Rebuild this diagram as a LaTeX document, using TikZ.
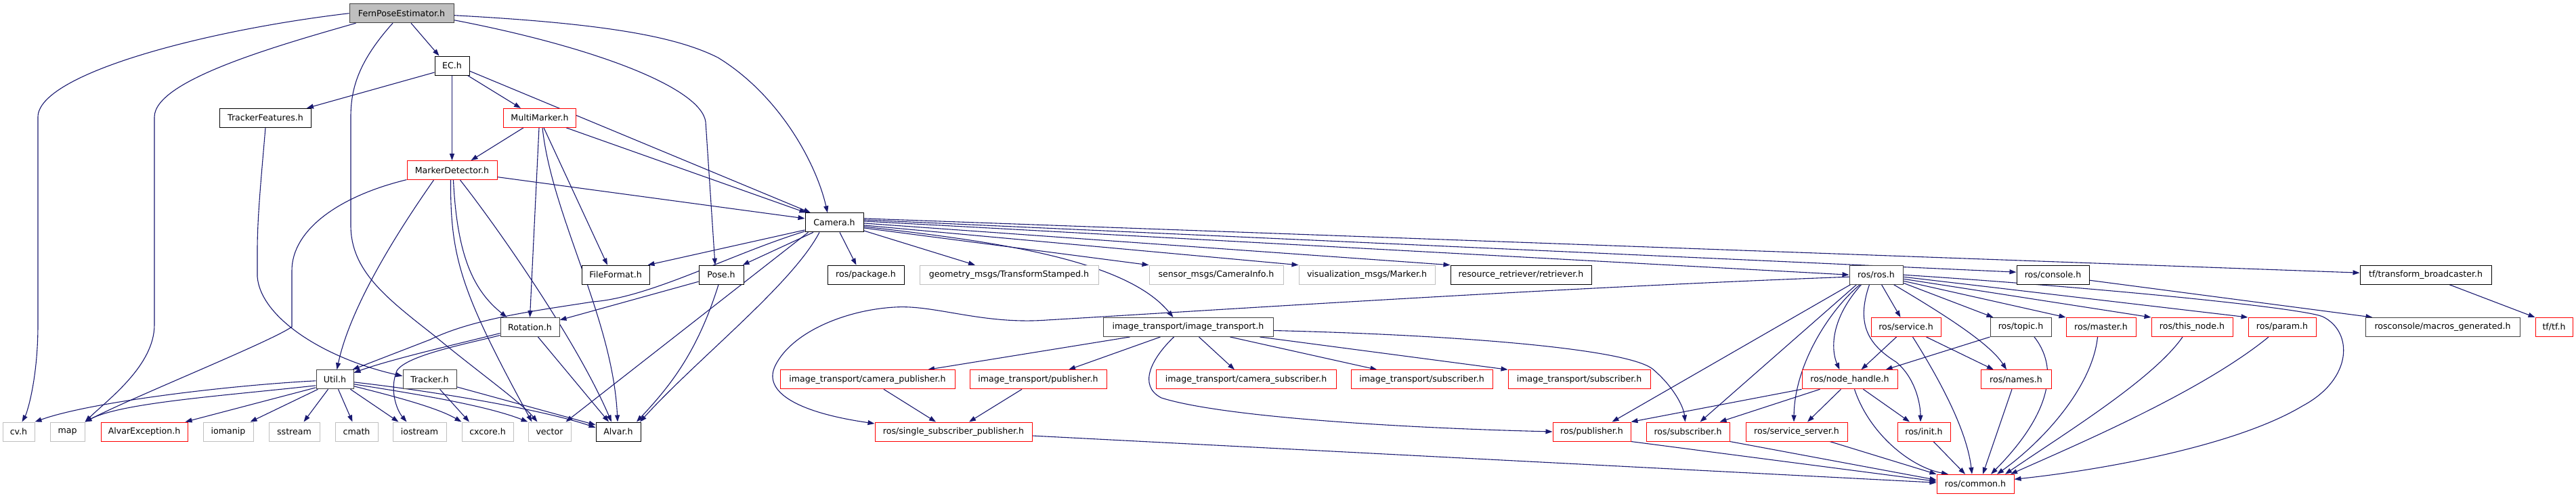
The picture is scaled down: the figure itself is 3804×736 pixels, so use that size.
\documentclass[tikz,border=0pt]{standalone}
\usepackage{fontspec}
\setmainfont{DejaVu Sans}
\usetikzlibrary{arrows.meta,backgrounds}
\definecolor{edgec}{HTML}{191970}
\definecolor{grayb}{HTML}{BFBFBF}
\definecolor{rootf}{HTML}{BFBFBF}
\definecolor{darkb}{HTML}{404040}
\begin{document}
\begin{tikzpicture}[x=1pt,y=-1pt,
  font=\fontsize{12.6}{15}\selectfont,
  base/.style={draw, line width=1pt, inner sep=0pt, minimum height=28pt, fill=white, text=black},
  nb/.style={base, draw=black},
  nd/.style={base, draw=darkb},
  ng/.style={base, draw=grayb},
  nr/.style={base, draw=red},
  nroot/.style={base, draw=darkb, fill=rootf},
  e/.style={draw=edgec, line width=1.1pt, -{Triangle[length=10pt,width=7pt]}}]
\useasboundingbox (0,0) rectangle (3804,736);
% row 0-4
\node[nroot, minimum width=154pt] (F) at (593,19.7) {FernPoseEstimator.h};
\node[nb, minimum width=51pt] (EC) at (667.5,97) {EC.h};
\node[nb, minimum width=135pt] (TF) at (392,174.3) {TrackerFeatures.h};
\node[nr, minimum width=107pt] (MM) at (797,174.3) {MultiMarker.h};
\node[nr, minimum width=133pt] (MD) at (667.5,251.6) {MarkerDetector.h};
\node[nb, minimum width=86pt] (Cam) at (1232,328.9) {Camera.h};
% row 5
\node[nb, minimum width=100pt] (FF) at (909,406.2) {FileFormat.h};
\node[nb, minimum width=66pt] (Pose) at (1065,406.2) {Pose.h};
\node[nb, minimum width=113pt] (pkg) at (1278.5,406.2) {ros/package.h};
\node[ng, minimum width=264pt] (geom) at (1490,406.2) {geometry\_msgs/TransformStamped.h};
\node[ng, minimum width=198pt] (sensor) at (1796,406.2) {sensor\_msgs/CameraInfo.h};
\node[ng, minimum width=201pt] (vis) at (2018.5,406.2) {visualization\_msgs/Marker.h};
\node[nb, minimum width=208pt] (ret) at (2246,406.2) {resource\_retriever/retriever.h};
\node[nd, minimum width=79pt] (ros) at (2770.5,406.2) {ros/ros.h};
\node[nb, minimum width=107pt] (con) at (3031.5,406.2) {ros/console.h};
\node[nb, minimum width=194pt] (tfb) at (3582,406.2) {tf/transform\_broadcaster.h};
% row 6
\node[nd, minimum width=87pt] (Rot) at (782.5,483.5) {Rotation.h};
\node[nd, minimum width=251pt] (itit) at (1754.5,483.5) {image\_transport/image\_transport.h};
\node[nr, minimum width=103pt] (svc) at (2814.5,483.5) {ros/service.h};
\node[nd, minimum width=90pt] (topic) at (2984,483.5) {ros/topic.h};
\node[nr, minimum width=103pt] (master) at (3102.5,483.5) {ros/master.h};
\node[nr, minimum width=120pt] (tn) at (3237,483.5) {ros/this\_node.h};
\node[nr, minimum width=100pt] (param) at (3370,483.5) {ros/param.h};
\node[nd, minimum width=228pt] (rc) at (3607,483.5) {rosconsole/macros\_generated.h};
\node[nr, minimum width=55pt] (tftf) at (3771.5,483.5) {tf/tf.h};
% row 7
\node[nd, minimum width=55pt] (Util) at (494.5,560.8) {Util.h};
\node[nd, minimum width=79pt] (Tracker) at (634.5,560.8) {Tracker.h};
\node[nr, minimum width=258pt] (cpub) at (1281,560.8) {image\_transport/camera\_publisher.h};
\node[nr, minimum width=202pt] (ipub) at (1533,560.8) {image\_transport/publisher.h};
\node[nr, minimum width=266pt] (csub) at (1840,560.8) {image\_transport/camera\_subscriber.h};
\node[nr, minimum width=209pt] (isub1) at (2099.5,560.8) {image\_transport/subscriber.h};
\node[nr, minimum width=210pt] (isub2) at (2332,560.8) {image\_transport/subscriber.h};
\node[nr, minimum width=141pt] (nh) at (2731.5,560.8) {ros/node\_handle.h};
\node[nr, minimum width=104pt] (names) at (2977,560.8) {ros/names.h};
% row 8
\node[ng, minimum width=47pt] (cv) at (27.5,638) {cv.h};
\node[ng, minimum width=51pt] (map) at (99.5,638) {map};
\node[nr, minimum width=128pt] (AE) at (213,638) {AlvarException.h};
\node[ng, minimum width=74pt] (iom) at (337,638) {iomanip};
\node[ng, minimum width=75pt] (ss) at (434.5,638) {sstream};
\node[ng, minimum width=63pt] (cmath) at (526.5,638) {cmath};
\node[ng, minimum width=79pt] (ios) at (619.5,638) {iostream};
\node[ng, minimum width=76pt] (cxc) at (720,638) {cxcore.h};
\node[ng, minimum width=63pt] (vector) at (811.5,638) {vector};
\node[nb, minimum width=66pt] (Alvar) at (913,638) {Alvar.h};
\node[nr, minimum width=232pt] (ssp) at (1408,638) {ros/single\_subscriber\_publisher.h};
\node[nr, minimum width=115pt] (rpub) at (2350.5,638) {ros/publisher.h};
\node[nr, minimum width=123pt] (rsub) at (2492.5,638) {ros/subscriber.h};
\node[nr, minimum width=150pt] (sse) at (2653,638) {ros/service\_server.h};
\node[nr, minimum width=78pt] (init) at (2841,638) {ros/init.h};
% row 9
\node[nr, minimum width=114pt] (common) at (2917,715.3) {ros/common.h};

\begin{scope}[on background layer]
% FernPoseEstimator
\draw[e] (F.west) .. controls (300,45) and (56,110) .. (56,173) -- (56,480) .. controls (56,560) and (40,610) .. ([xshift=5pt]cv.north);
\draw[e] ([xshift=10pt]F.south west) .. controls (400,70) and (228,120) .. (228,173) -- (228,480) .. controls (228,540) and (160,590) .. (map.north east);
\draw[e] ([xshift=14pt]F.south) -- ([xshift=-19pt]EC.north);
\draw[e] ([xshift=-13pt]F.south) .. controls (530,90) and (518,130) .. (518,173) -- (518,333) .. controls (518,400) and (570,440) .. (640,495) .. controls (700,545) and (770,595) .. ([xshift=-18pt]vector.north);
\draw[e] ([yshift=-10pt]F.east) .. controls (880,70) and (1035,130) .. (1042,180) -- ([xshift=-9pt]Pose.north);
\draw[e] ([yshift=-3pt]F.east) .. controls (900,35) and (1000,55) .. (1060,85) .. controls (1150,140) and (1205,240) .. ([xshift=-10pt]Cam.north);
% EC
\draw[e] ([yshift=-10pt]EC.west) -- ([xshift=61pt]TF.north);
\draw[e] (EC.south) -- (MD.north);
\draw[e] ([xshift=23pt]EC.south) -- ([xshift=-28pt]MM.north);
\draw[e] ([yshift=-8pt]EC.east) -- ([xshift=-35pt]Cam.north);
% MultiMarker
\draw[e] ([xshift=-24pt]MM.south) -- ([xshift=28pt]MD.north);
\draw[e] ([xshift=39pt]MM.south) -- ([xshift=2pt]Cam.north west);
\draw[e] ([xshift=6pt]MM.south) -- ([xshift=-12pt]FF.north);
\draw[e] ([xshift=-1pt]MM.south) -- (Rot.north);
\draw[e] ([xshift=4pt]MM.south) .. controls (815,320) and (905,470) .. ([xshift=-1pt]Alvar.north);
% MarkerDetector
\draw[e] ([yshift=-10pt]MD.east) -- ([yshift=6pt]Cam.west);
\draw[e] ([yshift=-14pt]MD.west) .. controls (500,290) and (431,340) .. (431,400) -- (431,483) .. controls (400,505) and (200,585) .. (map.north east);
\draw[e] ([xshift=-27pt]MD.south) .. controls (610,310) and (520,440) .. ([xshift=3pt]Util.north);
\draw[e] ([xshift=2pt]MD.south) .. controls (675,380) and (700,430) .. ([xshift=-34pt]Rot.north);
\draw[e] ([xshift=-2pt]MD.south) .. controls (665,380) and (680,430) .. ([xshift=-26pt]vector.north);
\draw[e] ([xshift=12pt]MD.south) .. controls (730,330) and (850,500) .. ([xshift=-10pt]Alvar.north);
% TrackerFeatures
\draw[e] (TF.south) .. controls (386,260) and (380,320) .. (380,370) -- (380,409) .. controls (385,470) and (480,530) .. ([yshift=5pt]Tracker.west);
% Camera
\draw[e] ([yshift=-11pt]Cam.west) -- ([xshift=-3pt]FF.north east);
\draw[e] ([xshift=-31pt]Cam.south) -- ([xshift=-2pt]Pose.north east);
\draw[e] ([yshift=-13pt]Cam.west) .. controls (1080,375) and (960,440) .. (875,446) .. controls (800,458) and (700,470) .. (635,502) -- ([xshift=-2pt]Util.north east);
\draw[e] ([xshift=5pt]Cam.south west) -- ([xshift=-8pt]vector.north east);
\draw[e] ([xshift=-22pt]Cam.south) .. controls (1170,420) and (1030,530) .. ([xshift=32pt]Alvar.north);
\draw[e] ([xshift=8pt]Cam.south) -- ([xshift=-14pt]pkg.north);
\draw[e] ([yshift=-12pt]Cam.east) -- ([xshift=-50pt]geom.north);
\draw[e] ([yshift=-8pt]Cam.east) -- (sensor.north west);
\draw[e] ([yshift=-6pt]Cam.east) .. controls (1450,355) and (1660,380) .. ([xshift=-22pt]itit.north);
\draw[e] ([yshift=-4pt]Cam.east) -- (vis.north west);
\draw[e] ([yshift=-1pt]Cam.east) -- (ret.north west);
\draw[e] ([yshift=2pt]Cam.east) -- (ros.west);
\draw[e] ([yshift=4pt]Cam.east) -- ([yshift=4pt]con.west);
\draw[e] ([yshift=6pt]Cam.east) -- ([yshift=3pt]tfb.west);
% Pose
\draw[e] ([yshift=-10pt]Pose.west) -- ([yshift=-4pt]Rot.north east);
\draw[e] ([xshift=-4pt]Pose.south) .. controls (1030,520) and (990,570) .. ([xshift=27pt]Alvar.north);
% Rotation
\draw[e] ([yshift=-9pt]Rot.west) .. controls (690,505) and (580,530) .. ([yshift=10pt]Util.east);
\draw[e] ([yshift=-12pt]Rot.west) .. controls (690,508) and (600,525) .. (586,548) .. controls (575,575) and (585,605) .. ([xshift=-19pt]ios.north);
\draw[e] ([xshift=12pt]Rot.south) -- ([xshift=-14pt]Alvar.north);
% Util
\draw[e] ([yshift=-2pt]Util.west) .. controls (330,570) and (130,595) .. (cv.north east);
\draw[e] ([yshift=-9pt]Util.west) .. controls (330,585) and (180,595) .. (map.north east);
\draw[e] ([yshift=-12pt]Util.west) -- ([xshift=-4pt]AE.north east);
\draw[e] ([xshift=-25pt]Util.south) -- ([xshift=-5pt]iom.north east);
\draw[e] ([xshift=-10pt]Util.south) -- ([xshift=14pt]ss.north);
\draw[e] ([xshift=5pt]Util.south) -- ([xshift=-6pt]cmath.north);
\draw[e] ([xshift=23pt]Util.south) -- ([xshift=-31pt]ios.north);
\draw[e] ([yshift=-10pt]Util.east) .. controls (600,590) and (650,605) .. (cxc.north west);
\draw[e] ([yshift=-7pt]Util.east) .. controls (620,583) and (720,600) .. (vector.north west);
\draw[e] ([yshift=-4pt]Util.east) .. controls (640,578) and (800,605) .. ([yshift=6pt]Alvar.west);
% Tracker
\draw[e] ([xshift=15pt]Tracker.south) -- ([xshift=-27pt]cxc.north);
\draw[e] ([yshift=-11pt]Tracker.east) -- ([yshift=10pt]Alvar.west);
% image_transport
\draw[e] ([xshift=-86pt]itit.south) -- ([xshift=89pt]cpub.north);
\draw[e] ([xshift=-41pt]itit.south) -- ([xshift=45pt]ipub.north);
\draw[e] ([xshift=16pt]itit.south) -- ([xshift=-17pt]csub.north);
\draw[e] ([xshift=-21pt]itit.south) .. controls (1700,530) and (1680,570) .. (1715,588) .. controls (1800,615) and (2050,632) .. (rpub.west);
\draw[e] ([xshift=62pt]itit.south) -- ([xshift=-66pt]isub1.north);
\draw[e] ([xshift=-20pt]itit.south east) -- (isub2.north west);
\draw[e] ([yshift=-5pt]itit.east) .. controls (2150,495) and (2400,515) .. (2440,545) .. controls (2470,570) and (2486,600) .. ([xshift=-4pt]rsub.north);
\draw[e] ([xshift=24pt]cpub.south) -- ([xshift=-26pt]ssp.north);
\draw[e] ([xshift=-24pt]ipub.south) -- ([xshift=23pt]ssp.north);
% ros/ros.h
\draw[e] ([yshift=-3pt]ros.west) .. controls (2300,425) and (1800,458) .. (1546,473) .. controls (1450,480) and (1380,450) .. (1321,454) .. controls (1250,458) and (1170,490) .. (1145,540) .. controls (1125,580) and (1180,610) .. ([yshift=12pt]ssp.west);
\draw[e] ([xshift=2pt]ros.south west) -- ([xshift=30pt]rpub.north);
\draw[e] ([xshift=11pt]ros.south west) -- ([xshift=18pt]rsub.north);
\draw[e] ([xshift=-24pt]ros.south) .. controls (2700,460) and (2650,540) .. ([xshift=-4pt]sse.north);
\draw[e] ([xshift=-22pt]ros.south) .. controls (2700,475) and (2705,520) .. ([xshift=-15pt]nh.north);
\draw[e] ([xshift=-10pt]ros.south) .. controls (2740,480) and (2760,510) .. (2800,535) .. controls (2830,560) and (2836,600) .. ([xshift=-5pt]init.north);
\draw[e] ([xshift=8pt]ros.south) -- ([xshift=-8pt]svc.north);
\draw[e] ([xshift=26pt]ros.south) .. controls (2880,470) and (2940,510) .. ([xshift=-14pt]names.north);
\draw[e] ([yshift=-12pt]ros.east) -- ([xshift=5pt]topic.north west);
\draw[e] ([yshift=-9pt]ros.east) -- (master.north west);
\draw[e] ([yshift=-6pt]ros.east) -- (tn.north west);
\draw[e] ([yshift=-3pt]ros.east) -- (param.north west);
\draw[e] (ros.east) .. controls (3100,425) and (3400,455) .. (3430,468) .. controls (3475,490) and (3475,560) .. (3400,600) .. controls (3300,660) and (3100,695) .. ([yshift=7pt]common.east);
% console, tf
\draw[e] ([yshift=-8pt]con.east) -- ([xshift=11pt]rc.north west);
\draw[e] ([xshift=35pt]tfb.south) -- (tftf.north west);
% service, topic, master, this_node, param, names
\draw[e] ([xshift=-14pt]svc.south) -- ([xshift=17pt]nh.north);
\draw[e] ([xshift=10pt]svc.south) .. controls (2870,570) and (2905,640) .. ([xshift=-5pt]common.north);
\draw[e] ([xshift=30pt]svc.south) -- ([xshift=-33pt]names.north);
\draw[e] (topic.south west) -- ([xshift=53pt]nh.north);
\draw[e] ([xshift=20pt]topic.south) .. controls (3045,550) and (3020,620) .. ([xshift=23pt]common.north);
\draw[e] ([xshift=-5pt]master.south) .. controls (3090,570) and (3020,650) .. ([xshift=32pt]common.north);
\draw[e] ([xshift=-14pt]tn.south) .. controls (3180,560) and (3050,640) .. ([xshift=44pt]common.north);
\draw[e] ([xshift=-20pt]param.south) .. controls (3250,580) and (3060,660) .. ([xshift=52pt]common.north);
\draw[e] ([xshift=-6pt]names.south) -- ([xshift=11pt]common.north);
% node_handle
\draw[e] (nh.south west) -- (rpub.north east);
\draw[e] ([xshift=-44pt]nh.south) -- ([xshift=47pt]rsub.north);
\draw[e] ([xshift=-13pt]nh.south) -- ([xshift=16pt]sse.north);
\draw[e] ([xshift=7pt]nh.south) .. controls (2760,640) and (2820,690) .. ([xshift=-40pt]common.north);
\draw[e] ([xshift=20pt]nh.south) -- ([xshift=-21pt]init.north);
% bottom row to common
\draw[e] ([xshift=49pt]sse.south) -- (common.north west);
\draw[e] ([xshift=14pt]init.south) -- ([xshift=-15pt]common.north);
\draw[e] (rsub.south east) -- ([yshift=6pt]common.west);
\draw[e] (rpub.south east) -- ([yshift=4pt]common.west);
\draw[e] ([yshift=-6pt]ssp.east) -- ([yshift=2pt]common.west);
\end{scope}
\end{tikzpicture}
\end{document}
